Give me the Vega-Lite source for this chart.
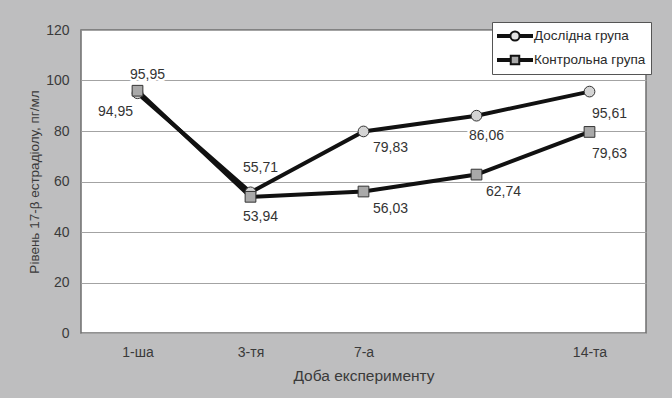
{
  "$schema": "https://vega.github.io/schema/vega-lite/v6.json",
  "width": 565,
  "height": 303,
  "autosize": {"type": "none"},
  "padding": {"left": 81, "top": 30, "right": 26, "bottom": 65},
  "background": "#bebebf",
  "config": {
    "locale": {"number": {"decimal": ",", "thousands": " ", "grouping": [3], "currency": ["", ""]}},
    "font": "Liberation Sans",
    "view": {"fill": "white", "stroke": "#6f6f6f", "strokeWidth": 1.5},
    "axis": {"labelColor": "#3a3a3a", "titleColor": "#3a3a3a", "labelFont": "Liberation Sans", "titleFont": "Liberation Sans", "titleFontWeight": "normal"}
  },
  "data": {
    "values": [
      {"doba": "1-ша", "grupa": "Дослідна група", "v": 94.95},
      {"doba": "3-тя", "grupa": "Дослідна група", "v": 55.71},
      {"doba": "7-а", "grupa": "Дослідна група", "v": 79.83},
      {"doba": "", "grupa": "Дослідна група", "v": 86.06},
      {"doba": "14-та", "grupa": "Дослідна група", "v": 95.61},
      {"doba": "1-ша", "grupa": "Контрольна група", "v": 95.95},
      {"doba": "3-тя", "grupa": "Контрольна група", "v": 53.94},
      {"doba": "7-а", "grupa": "Контрольна група", "v": 56.03},
      {"doba": "", "grupa": "Контрольна група", "v": 62.74},
      {"doba": "14-та", "grupa": "Контрольна група", "v": 79.63}
    ]
  },
  "encoding": {
    "x": {
      "field": "doba",
      "type": "nominal",
      "scale": {"type": "point", "domain": ["1-ша", "3-тя", "7-а", "", "14-та"], "padding": 0.5},
      "axis": {"title": "Доба експерименту", "labelAngle": 0, "ticks": false, "domain": false, "grid": false, "labelPadding": 12, "labelFontSize": 14, "titleFontSize": 15.5, "titlePadding": 9}
    },
    "y": {
      "field": "v",
      "type": "quantitative",
      "scale": {"domain": [0, 120]},
      "axis": {"title": "Рівень 17-β естрадіолу, пг/мл", "values": [0, 20, 40, 60, 80, 100, 120], "ticks": false, "domain": false, "labelPadding": 12, "labelFontSize": 14, "titleFontSize": 13.5, "titlePadding": 4, "gridColor": "#a3a3a3", "gridWidth": 1.2}
    }
  },
  "layer": [
    {
      "mark": {"type": "line", "color": "#111111", "strokeWidth": 4},
      "encoding": {"detail": {"field": "grupa", "type": "nominal"}, "order": {"value": null}}
    },
    {
      "transform": [{"filter": {"field": "grupa", "equal": "Дослідна група"}}],
      "mark": {"type": "point", "shape": "circle", "filled": true, "fill": "#d4d4d4", "stroke": "#333333", "strokeWidth": 1, "opacity": 1, "size": 115}
    },
    {
      "transform": [{"filter": {"field": "grupa", "equal": "Контрольна група"}}],
      "mark": {"type": "point", "shape": "square", "filled": true, "fill": "#a9a9a9", "stroke": "#333333", "strokeWidth": 1, "opacity": 1, "size": 115}
    },
    {
      "mark": {"type": "point", "filled": true, "opacity": 0, "stroke": "#111111", "strokeWidth": 2},
      "encoding": {
        "shape": {
          "field": "grupa",
          "type": "nominal",
          "scale": {
            "domain": ["Дослідна група", "Контрольна група"],
            "range": [
              "M-1,-0.06H-0.27V0.06H-1Z M0.27,-0.06H1V0.06H0.27Z M0.27,0A0.27,0.27 0 1,1 -0.27,0A0.27,0.27 0 1,1 0.27,0Z",
              "M-1,-0.06H-0.25V0.06H-1Z M0.25,-0.06H1V0.06H0.25Z M-0.25,-0.25H0.25V0.25H-0.25Z"
            ]
          },
          "legend": {
            "orient": "none",
            "legendX": 411,
            "legendY": -8,
            "title": null,
            "fillColor": "white",
            "strokeColor": "#555555",
            "padding": 5,
            "labelFontSize": 13.5,
            "labelColor": "#2a2a2a",
            "labelFont": "Liberation Sans",
            "labelOffset": 1,
            "symbolSize": 1156,
            "symbolOpacity": 1,
            "symbolStrokeWidth": 2,
            "clipHeight": 18,
            "rowPadding": 6
          }
        },
        "fill": {
          "field": "grupa",
          "type": "nominal",
          "scale": {"domain": ["Дослідна група", "Контрольна група"], "range": ["#e2e2e2", "#a9a9a9"]}
        }
      }
    },
    {
      "transform": [{"filter": {"field": "v", "oneOf": [94.95]}}],
      "encoding": {"text": {"field": "v", "type": "quantitative", "format": ".2f"}},
      "layer": [
        {"mark": {"type": "text", "fontSize": 14, "color": "white", "stroke": "white", "strokeWidth": 5, "strokeJoin": "round", "dx": -22, "dy": 19}},
        {"mark": {"type": "text", "fontSize": 14, "color": "#333333", "dx": -22, "dy": 19}}
      ]
    },
    {
      "transform": [{"filter": {"field": "v", "oneOf": [95.95]}}],
      "encoding": {"text": {"field": "v", "type": "quantitative", "format": ".2f"}},
      "layer": [
        {"mark": {"type": "text", "fontSize": 14, "color": "white", "stroke": "white", "strokeWidth": 5, "strokeJoin": "round", "dx": 10, "dy": -16}},
        {"mark": {"type": "text", "fontSize": 14, "color": "#333333", "dx": 10, "dy": -16}}
      ]
    },
    {
      "transform": [{"filter": {"field": "v", "oneOf": [55.71]}}],
      "encoding": {"text": {"field": "v", "type": "quantitative", "format": ".2f"}},
      "layer": [
        {"mark": {"type": "text", "fontSize": 14, "color": "white", "stroke": "white", "strokeWidth": 5, "strokeJoin": "round", "dx": 10, "dy": -24}},
        {"mark": {"type": "text", "fontSize": 14, "color": "#333333", "dx": 10, "dy": -24}}
      ]
    },
    {
      "transform": [{"filter": {"field": "v", "oneOf": [53.94, 86.06]}}],
      "encoding": {"text": {"field": "v", "type": "quantitative", "format": ".2f"}},
      "layer": [
        {"mark": {"type": "text", "fontSize": 14, "color": "white", "stroke": "white", "strokeWidth": 5, "strokeJoin": "round", "dx": 10, "dy": 20}},
        {"mark": {"type": "text", "fontSize": 14, "color": "#333333", "dx": 10, "dy": 20}}
      ]
    },
    {
      "transform": [{"filter": {"field": "v", "oneOf": [79.83, 56.03, 62.74]}}],
      "encoding": {"text": {"field": "v", "type": "quantitative", "format": ".2f"}},
      "layer": [
        {"mark": {"type": "text", "fontSize": 14, "color": "white", "stroke": "white", "strokeWidth": 5, "strokeJoin": "round", "dx": 27, "dy": 17}},
        {"mark": {"type": "text", "fontSize": 14, "color": "#333333", "dx": 27, "dy": 17}}
      ]
    },
    {
      "transform": [{"filter": {"field": "v", "oneOf": [95.61, 79.63]}}],
      "encoding": {"text": {"field": "v", "type": "quantitative", "format": ".2f"}},
      "layer": [
        {"mark": {"type": "text", "fontSize": 14, "color": "white", "stroke": "white", "strokeWidth": 5, "strokeJoin": "round", "dx": 20, "dy": 22}},
        {"mark": {"type": "text", "fontSize": 14, "color": "#333333", "dx": 20, "dy": 22}}
      ]
    }
  ]
}
